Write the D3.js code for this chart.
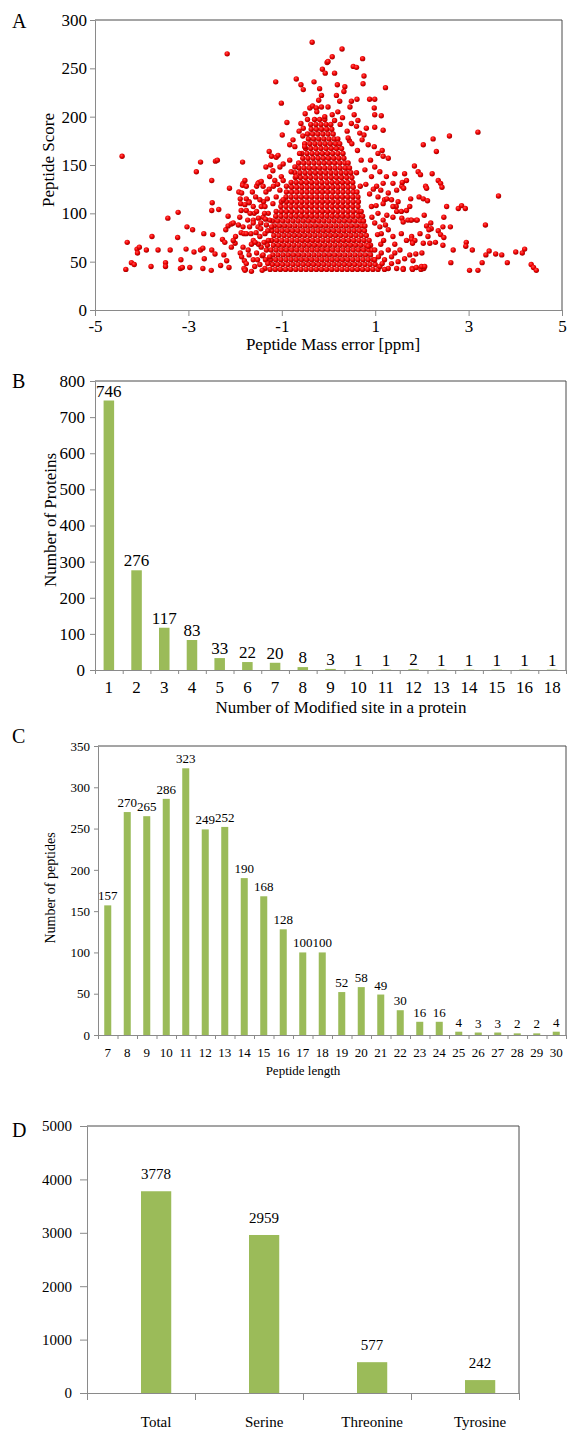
<!DOCTYPE html>
<html>
<head>
<meta charset="utf-8">
<script src="https://d3js.org/d3.v7.min.js"></script>
<style>
  body { margin: 0; background: #fff; }
  svg text { font-family: "Liberation Serif", "Tinos", "DejaVu Serif", "Noto Serif", serif; fill: #000; }
</style>
</head>
<body>
<div id="figure"></div>
<script>
;(function () {
  ////////////////////////////////////////////////////////////////////////////////
  // Data

  // A: peptide score against mass error
  const errorTicks = [-5, -3, -1, 1, 3, 5];
  const scoreTicks = [0, 50, 100, 150, 200, 250, 300];

  // dense middle of the cloud, one row per score level: [score, [ppm, ...]]
  const coreRows = [
    [42, [-1.25,-1.14,-1.03,-0.92,-0.81,-0.7,-0.59,-0.48,-0.37,-0.26,-0.15,-0.04,0.07,0.18,0.29,0.4,0.51,0.62,0.73,0.84,0.95,1.06]],
    [47, [-1.2,-1.09,-0.98,-0.87,-0.76,-0.65,-0.54,-0.43,-0.32,-0.21,-0.1,0.01,0.12,0.23,0.34,0.45,0.56,0.67,0.78,0.89,1.0]],
    [52, [-1.24,-1.13,-1.02,-0.91,-0.8,-0.69,-0.58,-0.47,-0.36,-0.25,-0.14,-0.03,0.08,0.19,0.3,0.41,0.52,0.63,0.74,0.85,0.96]],
    [57, [-1.19,-1.08,-0.97,-0.86,-0.75,-0.64,-0.53,-0.42,-0.31,-0.2,-0.09,0.02,0.13,0.24,0.35,0.46,0.57,0.68,0.79,0.9]],
    [62, [-1.23,-1.12,-1.01,-0.9,-0.79,-0.68,-0.57,-0.46,-0.35,-0.24,-0.13,-0.02,0.09,0.2,0.31,0.42,0.53,0.64,0.75,0.86,0.93]],
    [67, [-1.18,-1.07,-0.96,-0.85,-0.74,-0.63,-0.52,-0.41,-0.3,-0.19,-0.08,0.03,0.14,0.25,0.36,0.47,0.58,0.69,0.8,0.9]],
    [72, [-1.22,-1.11,-1.0,-0.89,-0.78,-0.67,-0.56,-0.45,-0.34,-0.23,-0.12,-0.01,0.1,0.21,0.32,0.43,0.54,0.65,0.76,0.87]],
    [77, [-1.17,-1.06,-0.95,-0.84,-0.73,-0.62,-0.51,-0.4,-0.29,-0.18,-0.07,0.04,0.15,0.26,0.37,0.48,0.59,0.7,0.81]],
    [82, [-1.21,-1.1,-0.99,-0.88,-0.77,-0.66,-0.55,-0.44,-0.33,-0.22,-0.11,0,0.11,0.22,0.33,0.44,0.55,0.66,0.77]],
    [87, [-1.16,-1.05,-0.94,-0.83,-0.72,-0.61,-0.5,-0.39,-0.28,-0.17,-0.06,0.05,0.16,0.27,0.38,0.49,0.6,0.71,0.78]],
    [92, [-1.2,-1.09,-0.98,-0.87,-0.76,-0.65,-0.54,-0.43,-0.32,-0.21,-0.1,0.01,0.12,0.23,0.34,0.45,0.56,0.67,0.75]],
    [97, [-1.13,-1.02,-0.91,-0.8,-0.69,-0.58,-0.47,-0.36,-0.25,-0.14,-0.03,0.08,0.19,0.3,0.41,0.52,0.63,0.73]],
    [102, [-1.12,-1.01,-0.9,-0.79,-0.68,-0.57,-0.46,-0.35,-0.24,-0.13,-0.02,0.09,0.2,0.31,0.42,0.53,0.64,0.7]],
    [107, [-1.02,-0.91,-0.8,-0.69,-0.58,-0.47,-0.36,-0.25,-0.14,-0.03,0.08,0.19,0.3,0.41,0.52,0.63]],
    [112, [-1.01,-0.9,-0.79,-0.68,-0.57,-0.46,-0.35,-0.24,-0.13,-0.02,0.09,0.2,0.31,0.42,0.53,0.64]],
    [117, [-0.91,-0.8,-0.69,-0.58,-0.47,-0.36,-0.25,-0.14,-0.03,0.08,0.19,0.3,0.41,0.52,0.63]],
    [122, [-0.9,-0.79,-0.68,-0.57,-0.46,-0.35,-0.24,-0.13,-0.02,0.09,0.2,0.31,0.42,0.53,0.61]],
    [127, [-0.79,-0.68,-0.57,-0.46,-0.35,-0.24,-0.13,-0.02,0.09,0.2,0.31,0.42,0.53]],
    [132, [-0.8,-0.69,-0.58,-0.47,-0.36,-0.25,-0.14,-0.03,0.08,0.19,0.3,0.41,0.52]],
    [137, [-0.71,-0.6,-0.49,-0.38,-0.27,-0.16,-0.05,0.06,0.17,0.28,0.39,0.5]],
    [142, [-0.72,-0.61,-0.5,-0.39,-0.28,-0.17,-0.06,0.05,0.16,0.27,0.38,0.48]],
    [147, [-0.63,-0.52,-0.41,-0.3,-0.19,-0.08,0.03,0.14,0.25,0.36,0.45]],
    [152, [-0.64,-0.53,-0.42,-0.31,-0.2,-0.09,0.02,0.13,0.24,0.35,0.42]],
    [157, [-0.55,-0.44,-0.33,-0.22,-0.11,0,0.11,0.22,0.33]],
    [162, [-0.57,-0.46,-0.35,-0.24,-0.13,-0.02,0.09,0.2,0.31]],
    [167, [-0.49,-0.38,-0.27,-0.16,-0.05,0.06,0.17,0.28]],
    [172, [-0.51,-0.4,-0.29,-0.18,-0.07,0.04,0.15,0.24]],
    [177, [-0.43,-0.32,-0.21,-0.1,0.01,0.12,0.2]],
    [182, [-0.45,-0.34,-0.23,-0.12,-0.01,0.1]],
    [187, [-0.37,-0.26,-0.15,-0.04,0.07]],
    [192, [-0.38,-0.27,-0.16,-0.05,0.05]],
    [197, [-0.3,-0.19,-0.08]],
  ];

  // the looser points round the middle: [ppm, score]
  const loosePoints = [
    [-4.42,159],[-4.34,42],[-4.31,70],[-4.22,49],[-4.16,47],[-4.1,63],[-4.05,65],[-4.09,59],
    [-3.9,62],[-3.78,76],[-3.8,45],[-3.65,62],[-3.49,49],[-3.49,45],[-3.44,95],[-3.39,62],
    [-3.22,101],[-3.23,75],[-3.16,52],[-3.17,43],[-3.13,44],[-3.03,86],[-3.05,63],[-2.97,44],
    [-2.91,83],[-2.88,60],[-2.83,143],[-2.74,153],[-2.74,62],[-2.69,64],[-2.67,79],[-2.66,53],
    [-2.69,43],[-2.5,134],[-2.49,111],[-2.5,103],[-2.42,154],[-2.38,155],[-2.35,104],[-2.48,78],
    [-2.5,62],[-2.43,58],[-2.51,41],[-2.31,46],[-2.27,73],[-2.22,70],[-2.24,57],[-2.2,83],
    [-2.15,87],[-2.15,97],[-2.12,126],[-2.17,265],[-2.18,51],[-2.13,44],[-2.08,89],[-2.04,90],
    [-2.08,65],[-2.0,69],[-1.92,122],[-1.89,115],[-1.88,110],[-1.84,153],[-1.83,131],[-1.89,59],
    [-1.87,80],[-1.81,79],[-1.76,103],[-1.7,112],[-1.81,43],[-1.78,42],[-1.8,51],[-1.7,57],
    [-1.66,79],[-1.61,72],[-1.59,100],[-1.61,93],[-1.54,128],[-1.49,132],[-1.99,76],[-2.04,72],
    [-1.93,88],
    [-1.79,134],[-1.84,129],[-1.76,128],[-1.51,131],[-1.44,133],[-1.4,128],[-1.34,122],[-1.26,138],
    [-1.15,134],[-1.01,138],[-0.97,134],[-1.86,121],[-1.76,115],[-1.7,111],[-1.79,109],[-1.61,107],
    [-1.54,102],[-1.44,107],[-1.39,112],[-1.87,103],[-1.9,96],[-1.73,93],[-1.69,86],[-1.83,86],
    [-1.76,79],[-1.61,90],[-1.51,86],[-1.47,114],[-1.36,107],[-1.29,100],[-1.4,96],[-1.26,93],
    [-1.47,76],[-1.36,79],[-1.29,72],[-1.22,86],[-1.44,65],[-1.33,62],[-1.26,55],[-1.54,59],
    [-1.61,52],[-1.72,62],[-1.83,65],[-1.86,55],[-1.76,48],[-1.58,45],[-1.47,47],[-1.36,43],
    [-1.79,41],[-1.65,40],
    [-1.35,52],[-1.42,56],[-1.31,67],[-1.38,70],[-1.45,84],[-1.33,88],[-1.37,100],[-1.31,115],
    [-1.27,125],[-1.18,128],[-1.09,130],[-1.5,95],[-1.55,80],[-1.5,68],[-1.65,68],[-1.68,100],
    [-1.56,117],[-1.63,122],[-1.3,48],[-1.42,41],[-1.52,52],[-1.57,70],[-1.45,90],[-1.35,94],
    [-1.3,82],[-1.4,57],
    [-1.27,164],[-1.22,159],[-1.12,158],[-1.08,160],[-1.34,148],[-1.24,150],[-1.19,144],[-1.04,148],
    [-0.97,151],[-0.83,155],[-0.72,148],[-0.62,162],[-0.51,169],[-0.69,138],[-0.8,143],[-0.9,128],
    [-1.04,124],[-1.12,117],[-0.97,114],[-1.19,110],[-0.99,181],[-0.89,194],[-0.59,193],[-0.54,188],
    [-0.63,185],[-0.76,176],[-0.83,171],[-0.72,169],[-1.01,214],[-1.13,236],[-0.35,277],[-0.69,239],
    [-0.59,233],[-0.54,228],[-0.31,236],[-0.19,229],[-0.15,222],[-0.21,217],[-0.13,249],[-0.07,245],
    [-0.03,256],[-0.4,209],[-0.34,211],[-0.26,209],[-0.15,210],
    [-0.5,203],[-0.25,205],[0.2,205],[0.3,199],[-0.45,197],[0.25,192],[-0.55,180],[0.4,185],[0.45,175],
    [0.29,270],[-0.01,257],[0.08,262],[0.73,260],[0.53,252],[0.6,251],[0.13,245],[0.76,242],
    [0.74,234],[0.19,233],[0.35,231],[0.33,226],[0.17,222],[0.24,216],[0.49,216],[0.61,218],
    [1.22,230],[0.88,218],[0.99,218],[0.98,209],[0.99,202],[1.13,201],[1.17,186],[-0.01,210],
    [0.08,202],[0.13,196],[-0.08,200],[0.46,210],[0.55,202],[0.63,196],[0.49,193],[0.6,190],
    [0.67,183],[0.76,181],[0.81,188],[0.72,176],[0.85,171],[0.98,169],[0.99,189],[1.06,162],
    [1.17,159],[1.28,157],[1.15,165],
    [1.42,141],[1.63,141],[1.67,134],[1.57,128],[1.38,131],[1.46,124],[0.99,148],[1.1,143],
    [1.24,138],[1.17,131],[0.92,138],[1.03,128],[1.28,121],[1.2,114],[1.06,117],[1.35,114],
    [1.45,107],[1.49,112],[1.56,102],[1.38,96],[1.67,103],[1.76,93],[1.74,107],[0.92,107],
    [1.06,100],[1.17,93],[0.99,90],[1.28,83],[1.13,79],[1.38,76],[1.56,79],[1.67,72],
    [1.78,76],[0.85,66],[0.99,62],[1.13,59],[1.28,62],[1.42,59],[1.53,62],[1.63,53],
    [1.74,57],[1.2,52],[1.35,48],[1.49,50],[0.99,52],[1.1,45],[1.28,43],[1.46,43],
    [1.6,43],[1.79,43],[1.58,132],[1.61,126],[1.17,110],[1.38,107],[1.46,102],[1.25,115],
    [1.57,95],[1.6,91],[1.7,93],[1.88,93],
    [1.12,68],[1.18,72],[1.05,78],[1.22,88],[1.1,86],[0.93,96],[1.02,108],[0.88,120],
    [0.96,125],[1.12,124],[0.8,130],[0.78,145],[0.7,155],[0.62,165],[0.5,172],[0.42,178],
    [1.15,48],[1.2,42],[1.35,55],[1.07,55],[1.42,68],[1.25,98],[0.9,155],[0.6,142],[0.68,128],
    [3.2,184],[2.59,180],[2.24,177],[2.03,171],[2.31,164],[1.84,149],[1.92,143],[1.97,140],
    [2.22,141],[2.35,134],[2.4,131],[2.43,127],[2.08,128],[2.1,126],[3.64,118],[1.94,117],
    [2.03,115],[2.12,113],[1.76,115],[2.53,107],[2.78,105],[2.85,108],[2.93,105],[2.47,96],
    [2.05,98],[1.9,93],[1.78,93],[2.1,87],[2.19,90],[2.2,84],[2.15,83],[2.45,86],
    [2.61,86],[3.36,88],[1.96,79],[2.35,82],[2.4,78],[2.13,76],[2.47,75],[1.78,73],
    [1.85,72],[1.8,69],[2.03,69],[2.17,69],[2.29,70],[2.45,67],[2.95,70],[2.94,66],
    [2.67,62],[3.08,62],[3.44,61],[3.37,57],[3.29,49],[3.58,58],[3.71,57],[3.83,49],
    [4.01,60],[4.15,59],[4.2,63],[4.34,47],[4.39,44],[4.45,41],[3.02,41],[3.2,41],
    [2.62,49],[2.0,59],[1.87,58],[1.81,51],[1.8,42],[1.88,44],[1.98,42],[2.04,43],
    [1.99,45],[2.06,45],[1.6,42],
  ];

  // B: modified sites per protein
  const siteLabels = ['1','2','3','4','5','6','7','8','9','10','11','12','13','14','15','16','18'];
  const proteinCounts = [746, 276, 117, 83, 33, 22, 20, 8, 3, 1, 1, 2, 1, 1, 1, 1, 1];
  const proteinTicks = [0, 100, 200, 300, 400, 500, 600, 700, 800];

  // C: peptide length
  const lengthLabels = ['7','8','9','10','11','12','13','14','15','16','17','18','19','20','21','22','23','24','25','26','27','28','29','30'];
  const peptideCounts = [157, 270, 265, 286, 323, 249, 252, 190, 168, 128, 100, 100, 52, 58, 49, 30, 16, 16, 4, 3, 3, 2, 2, 4];
  const peptideTicks = [0, 50, 100, 150, 200, 250, 300, 350];

  // D: modified residues
  const residueLabels = ['Total', 'Serine', 'Threonine', 'Tyrosine'];
  const residueCounts = [3778, 2959, 577, 242];
  const residueTicks = [0, 1000, 2000, 3000, 4000, 5000];

  ////////////////////////////////////////////////////////////////////////////////
  // Setup
  const serif = '"Liberation Serif", "Tinos", "DejaVu Serif", "Noto Serif", serif';
  const axisGrey = '#8a8a8a';
  const borderGrey = '#4a4a4a';
  const barGreen = '#9bbb59';

  const svg = d3.select('#figure').append('svg')
    .attr('width', 568)
    .attr('height', 1433)
    .style('font-family', serif);

  const defs = svg.append('defs');
  const ball = defs.append('radialGradient')
    .attr('id', 'ball')
    .attr('cx', '40%').attr('cy', '35%').attr('r', '65%');
  ball.append('stop').attr('offset', '0%').attr('stop-color', '#ff5050');
  ball.append('stop').attr('offset', '55%').attr('stop-color', '#f00000');
  ball.append('stop').attr('offset', '100%').attr('stop-color', '#9a0000');

  function styleAxis (g, size) {
    g.attr('font-family', null);
    g.select('.domain').attr('stroke', axisGrey);
    g.selectAll('.tick line').attr('stroke', axisGrey);
    g.selectAll('.tick text')
      .attr('fill', '#000')
      .style('font-size', size + 'px')
      .style('font-family', serif);
  }

  function border (g, left, right, top, bottom) {
    g.append('path')
      .attr('d', `M${left},${top}H${right}V${bottom}`)
      .attr('fill', 'none')
      .attr('stroke', borderGrey);
  }

  function panelLetter (letter, y) {
    svg.append('text')
      .attr('x', 12)
      .attr('y', y)
      .style('font-size', '20px')
      .text(letter);
  }

  function yTitle (text, x, y, size) {
    svg.append('text')
      .attr('transform', `translate(${x},${y}) rotate(-90)`)
      .attr('text-anchor', 'middle')
      .style('font-size', size + 'px')
      .text(text);
  }

  function xTitle (text, x, y, size) {
    svg.append('text')
      .attr('x', x)
      .attr('y', y)
      .attr('text-anchor', 'middle')
      .style('font-size', size + 'px')
      .text(text);
  }

  ////////////////////////////////////////////////////////////////////////////////
  // A: scatter
  const ax = d3.scaleLinear().domain([-5, 5]).range([95, 562]);
  const ay = d3.scaleLinear().domain([0, 300]).range([310, 20]);
  const aFrame = svg.append('g');

  const points = [];
  coreRows.forEach(([score, errs]) => errs.forEach(e => points.push([e, score])));
  loosePoints.forEach(p => points.push(p));

  aFrame.append('g')
    .selectAll('circle')
    .data(points)
    .join('circle')
      .attr('cx', d => ax(d[0]))
      .attr('cy', d => ay(d[1]))
      .attr('r', 2.7)
      .attr('fill', 'url(#ball)');

  border(aFrame, 95, 562, 20, 310);

  aFrame.append('g')
    .attr('transform', 'translate(95,0)')
    .call(d3.axisLeft(ay).tickValues(scoreTicks).tickSize(5).tickSizeOuter(0).tickPadding(3))
    .call(g => styleAxis(g, 17));

  aFrame.append('g')
    .attr('transform', 'translate(0,310)')
    .call(d3.axisBottom(ax).tickValues(errorTicks).tickSize(6).tickSizeOuter(0).tickPadding(4)
      .tickFormat(d => String(d)))
    .call(g => styleAxis(g, 17));

  panelLetter('A', 28);
  yTitle('Peptide Score', 54, 160, 17);
  xTitle('Peptide Mass error [ppm]', 333, 350, 17);

  ////////////////////////////////////////////////////////////////////////////////
  // Bar panels B, C, D
  function drawBars (p) {
    const n = p.cats.length;
    const x = d3.scaleBand().domain(p.cats).range([p.left, p.right]);
    const edges = d3.scaleLinear().domain([0, n]).range([p.left, p.right]);
    const y = d3.scaleLinear().domain([0, p.yTicks[p.yTicks.length - 1]]).range([p.bottom, p.top]);
    const bw = x.bandwidth();
    const barW = bw * p.barFrac;
    const data = p.cats.map((c, i) => ({cat: c, value: p.values[i]}));
    const g = svg.append('g');

    g.selectAll('rect')
      .data(data)
      .join('rect')
        .attr('x', d => x(d.cat) + bw * p.barPos - barW / 2)
        .attr('y', d => y(d.value))
        .attr('width', barW)
        .attr('height', d => p.bottom - y(d.value))
        .attr('fill', barGreen);

    g.selectAll('.value')
      .data(data)
      .join('text')
        .attr('class', 'value')
        .attr('x', d => x(d.cat) + bw * p.barPos)
        .attr('y', d => y(d.value) - p.labelGap)
        .attr('text-anchor', 'middle')
        .style('font-size', p.labelSize + 'px')
        .text(d => d.value);

    border(g, p.left, p.right, p.top, p.bottom);

    g.append('g')
      .attr('transform', `translate(${p.left},0)`)
      .call(d3.axisLeft(y).tickValues(p.yTicks).tickSize(p.yTick).tickSizeOuter(0).tickPadding(p.yPad)
        .tickFormat(d => String(d)))
      .call(a => styleAxis(a, p.tickSize));

    g.append('g')
      .attr('transform', `translate(0,${p.bottom})`)
      .call(d3.axisBottom(edges).tickValues(d3.range(n + 1)).tickSize(p.xTick).tickSizeOuter(0).tickFormat(''))
      .call(a => styleAxis(a, p.tickSize));

    g.append('g')
      .attr('transform', `translate(0,${p.bottom})`)
      .call(d3.axisBottom(x).tickSize(0).tickPadding(p.xPad))
      .call(a => a.select('.domain').remove())
      .call(a => styleAxis(a, p.catSize))
      .selectAll('text')
        .attr('dx', bw * (p.barPos - 0.5));
  }

  // B
  drawBars({
    cats: siteLabels, values: proteinCounts, yTicks: proteinTicks,
    left: 95, right: 566, top: 381, bottom: 670,
    barFrac: 0.38, barPos: 0.5, labelGap: 4, labelSize: 17,
    tickSize: 17, catSize: 17, yTick: 5, yPad: 5, xTick: 4, xPad: 11,
  });
  panelLetter('B', 388);
  yTitle('Number of Proteins', 56, 520, 17);
  xTitle('Number of Modified site in a protein', 341, 713, 17);

  // C
  drawBars({
    cats: lengthLabels, values: peptideCounts, yTicks: peptideTicks,
    left: 98, right: 566, top: 746, bottom: 1035,
    barFrac: 0.36, barPos: 0.5, labelGap: 5, labelSize: 13,
    tickSize: 13, catSize: 13, yTick: 4, yPad: 4, xTick: 4, xPad: 13,
  });
  panelLetter('C', 743);
  yTitle('Number of peptides', 55, 888, 14);
  xTitle('Peptide length', 303, 1075, 13);

  // D
  drawBars({
    cats: residueLabels, values: residueCounts, yTicks: residueTicks,
    left: 87, right: 519, top: 1126, bottom: 1393,
    barFrac: 0.28, barPos: 0.64, labelGap: 12, labelSize: 15,
    tickSize: 15, catSize: 15, yTick: 7, yPad: 8, xTick: 7, xPad: 23,
  });
  panelLetter('D', 1137);

})();
</script>
</body>
</html>
